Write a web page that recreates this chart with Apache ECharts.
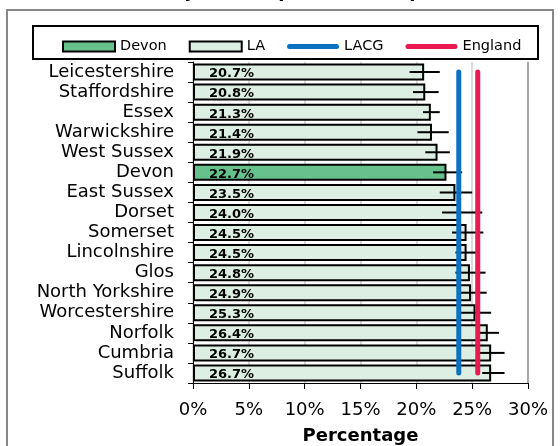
<!DOCTYPE html>
<html>
<head>
<meta charset="utf-8">
<script src="https://cdn.jsdelivr.net/npm/echarts@6/dist/echarts.min.js"></script>
<style>
html,body{margin:0;padding:0;background:#fff;}
#chart{width:560px;height:446px;}
</style>
</head>
<body>
<div id="chart"></div>
<script>
var categories = ['Leicestershire','Staffordshire','Essex','Warwickshire','West Sussex','Devon','East Sussex','Dorset','Somerset','Lincolnshire','Glos','North Yorkshire','Worcestershire','Norfolk','Cumbria','Suffolk'];
var values = [20.7,20.8,21.3,21.4,21.9,22.7,23.5,24.0,24.5,24.5,24.8,24.9,25.3,26.4,26.7,26.7];
var lower = [19.4,19.7,20.6,20.1,20.8,21.5,22.1,22.3,23.2,23.5,23.5,23.7,23.9,25.4,25.5,25.9];
var upper = [22.1,22.0,22.1,22.9,23.0,24.1,25.0,25.9,26.0,25.7,26.2,26.3,26.7,27.4,27.9,27.9];
var lacgValue = 23.8;
var englandValue = 25.5;
var xTicks = [0,5,10,15,20,25,30];
var highlight = 'Devon';

var FONT = 'DejaVu Sans, sans-serif';
var devonData = categories.map(function(c,i){ return c===highlight ? values[i] : '-'; });
var laData = categories.map(function(c,i){ return c===highlight ? '-' : values[i]; });
var errData = categories.map(function(c,i){ return [i, lower[i], upper[i]]; });

var labelCfg = {
  show:true, position:'insideLeft', distance:16, offset:[0,2],
  fontFamily:FONT, fontSize:13, fontWeight:'bold', color:'#000',
  formatter:function(p){ return Number(p.value).toFixed(1)+'%'; }
};
var linePath = 'path://M2.5,0 L49.5,0 A2.5,2.5 0 0 1 49.5,5 L2.5,5 A2.5,2.5 0 0 1 2.5,0 Z';

var chart = echarts.init(document.getElementById('chart'));
chart.setOption({
  animation:false,
  title:{
    text:'Obese children by LA Comparator Group (2019/20)',
    left:8, top:-22,
    textStyle:{fontFamily:FONT, fontSize:18, fontWeight:'bold', color:'#000'}
  },
  graphic:[
    {type:'rect', shape:{x:7,y:10,width:546,height:460}, style:{fill:'#fff', stroke:'#888', lineWidth:2}, silent:true, z:-2},
    {type:'rect', shape:{x:33,y:26,width:505,height:33}, style:{fill:'#fff', stroke:'#000', lineWidth:2}, silent:true, z:-1}
  ],
  legend:{
    data:[
      {name:'Devon', icon:'rect'},
      {name:'LA', icon:'rect'},
      {name:'LACG', icon:linePath, itemStyle:{color:'#0b72c3', borderWidth:0}},
      {name:'England', icon:linePath, itemStyle:{color:'#ea1a50', borderWidth:0}}
    ],
    left:57, top:34,
    itemWidth:52, itemHeight:10, itemGap:22,
    textStyle:{fontFamily:FONT, fontSize:14.5, color:'#000'}
  },
  grid:{left:193, right:32, top:62, bottom:63, containLabel:false, outerBoundsMode:'none'},
  xAxis:{
    type:'value', min:0, max:30, interval:5,
    name:'Percentage', nameLocation:'middle', nameGap:44,
    nameTextStyle:{fontFamily:FONT, fontSize:18, fontWeight:'bold', color:'#000'},
    axisLine:{show:true, lineStyle:{color:'#000', width:1}},
    axisTick:{show:true, length:6, lineStyle:{color:'#000'}},
    axisLabel:{fontFamily:FONT, fontSize:18, color:'#000', margin:18, formatter:'{value}%'},
    splitLine:{show:true, lineStyle:{color:['#cfcfcf','#cfcfcf','#cfcfcf','#cfcfcf','#cfcfcf','#cfcfcf','#8a8a8a'], width:1.5}}
  },
  yAxis:{
    type:'category', data:categories, inverse:true,
    axisLine:{show:true, lineStyle:{color:'#000', width:1}},
    axisTick:{show:true, length:5, lineStyle:{color:'#000'}},
    axisLabel:{fontFamily:FONT, fontSize:18, color:'#000', margin:19, interval:0}
  },
  series:[
    {name:'Devon', type:'bar', data:devonData, barCategoryGap:'15%', barGap:'-100%',
     itemStyle:{color:'#66c18c', borderColor:'#000', borderWidth:2}, label:labelCfg, z:2},
    {name:'LA', type:'bar', data:laData, barCategoryGap:'15%', barGap:'-100%',
     itemStyle:{color:'#ddefe3', borderColor:'#000', borderWidth:2}, label:labelCfg, z:2},
    {name:'err', type:'custom', data:errData, z:3,
     renderItem:function(params, api){
       var c = api.value(0);
       var p1 = api.coord([api.value(1), c]);
       var p2 = api.coord([api.value(2), c]);
       return {type:'line', shape:{x1:p1[0], y1:p1[1], x2:p2[0], y2:p2[1]}, style:{stroke:'#000', lineWidth:2}};
     },
     encode:{x:[1,2], y:0}, silent:true},
    {name:'LACG', type:'line', symbol:'none', z:4,
     data:[[lacgValue, categories[0]],[lacgValue, categories[categories.length-1]]],
     lineStyle:{color:'#0b72c3', width:5, cap:'round'}, itemStyle:{color:'#0b72c3'}},
    {name:'England', type:'line', symbol:'none', z:4,
     data:[[englandValue, categories[0]],[englandValue, categories[categories.length-1]]],
     lineStyle:{color:'#ea1a50', width:5, cap:'round'}, itemStyle:{color:'#ea1a50'}}
  ]
});
</script>
</body>
</html>
